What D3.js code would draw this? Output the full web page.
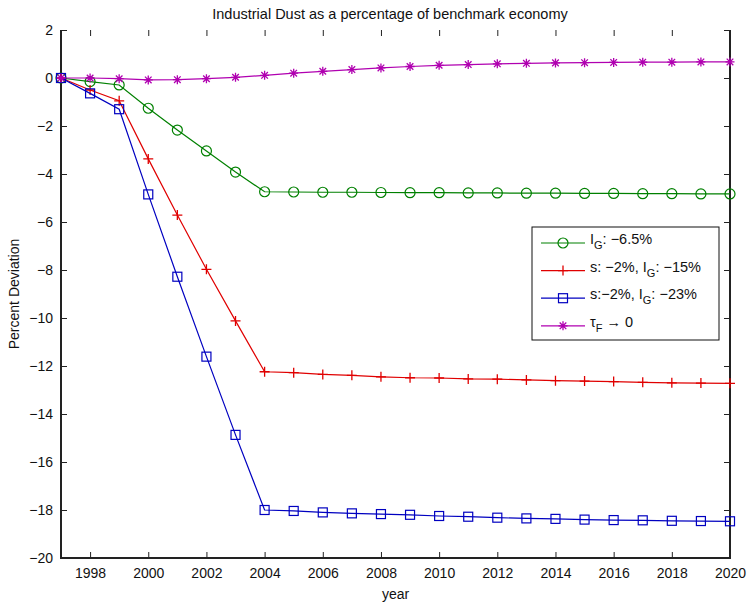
<!DOCTYPE html>
<html>
<head>
<meta charset="utf-8">
<script src="https://cdn.jsdelivr.net/npm/d3@7"></script>
<style>
  html, body { margin: 0; padding: 0; background: #fff; }
  svg { display: block; font-family: "Liberation Sans", Arial, Helvetica, sans-serif; }
</style>
</head>
<body>
<svg id="chart" width="749" height="605"></svg>
<script>
// Years on the horizontal axis
const years = d3.range(1997, 2021);

// Percent deviation of industrial dust from the benchmark economy
const igOnly = [0, -0.15, -0.29, -1.26, -2.17, -3.04, -3.92, -4.74, -4.75, -4.76, -4.76, -4.77, -4.78,
  -4.78, -4.79, -4.79, -4.80, -4.80, -4.81, -4.81, -4.82, -4.82, -4.83, -4.83];
const sIg15 = [0, -0.5, -0.95, -3.37, -5.71, -7.97, -10.12, -12.24, -12.28, -12.35, -12.39, -12.45, -12.49,
  -12.5, -12.54, -12.55, -12.58, -12.61, -12.63, -12.65, -12.68, -12.7, -12.71, -12.72];
const sIg23 = [0, -0.64, -1.3, -4.85, -8.28, -11.61, -14.87, -18.0, -18.04, -18.1, -18.14, -18.17, -18.2,
  -18.25, -18.28, -18.32, -18.35, -18.37, -18.4, -18.42, -18.43, -18.45, -18.46, -18.47];
const tauF = [0, 0.0, -0.03, -0.08, -0.07, -0.03, 0.03, 0.11, 0.2, 0.28, 0.35, 0.42, 0.48,
  0.53, 0.56, 0.59, 0.61, 0.63, 0.64, 0.65, 0.66, 0.66, 0.67, 0.67];

const xTicks = d3.range(1998, 2021, 2);
const yTicks = d3.range(-20, 3, 2);

const series = [
  { values: igOnly, color: "#008000", marker: "circle", label: [["I"], ["G", "sub"], [": \u22126.5%"]] },
  { values: sIg15, color: "#e00000", marker: "plus", label: [["s: \u22122%, I"], ["G", "sub"], [": \u221215%"]] },
  { values: sIg23, color: "#0000c0", marker: "square", label: [["s:\u22122%, I"], ["G", "sub"], [": \u221223%"]] },
  { values: tauF, color: "#b000b0", marker: "star", label: [["\u03c4"], ["F", "sub"], [" \u2192 0"]] }
];

const svg = d3.select("#chart");
const margin = { left: 61, right: 19, top: 30, bottom: 47 };
const W = 749, H = 605;

const x = d3.scaleLinear().domain([1997, 2020]).range([margin.left, W - margin.right]);
const y = d3.scaleLinear().domain([-20, 2]).range([H - margin.bottom, margin.top]);

const fmt = v => (v < 0 ? "\u2212" + Math.abs(v) : String(v));

// Axes with inward ticks on all four sides
const axisColor = "#222";
function styleAxis(g, hideText) {
  g.select(".domain").remove();
  g.selectAll(".tick line").attr("stroke", axisColor).attr("stroke-width", 1);
  g.selectAll(".tick text").attr("fill", "#111").style("font-size", "14px")
    .style("font-family", "'Liberation Sans', Arial, sans-serif");
  if (hideText) g.selectAll(".tick text").remove();
}

svg.append("g").attr("transform", `translate(0,${y(-20)})`)
  .call(d3.axisBottom(x).tickValues(xTicks).tickSize(-6).tickPadding(10).tickFormat(d3.format("d")))
  .call(g => styleAxis(g, false));
svg.append("g").attr("transform", `translate(0,${y(2)})`)
  .call(d3.axisTop(x).tickValues(xTicks).tickSize(-6))
  .call(g => styleAxis(g, true));
svg.append("g").attr("transform", `translate(${x(1997)},0)`)
  .call(d3.axisLeft(y).tickValues(yTicks).tickSize(-6).tickPadding(8).tickFormat(fmt))
  .call(g => styleAxis(g, false));
svg.append("g").attr("transform", `translate(${x(2020)},0)`)
  .call(d3.axisRight(y).tickValues(yTicks).tickSize(-6))
  .call(g => styleAxis(g, true));

// Box around the plot area
svg.append("path")
  .attr("d", `M${x(1997)},${y(2)}V${y(-20)}H${x(2020)}V${y(2)}`)
  .attr("fill", "none").attr("stroke", axisColor).attr("stroke-width", 2);

// Marker drawing
function drawMarker(g, type, color) {
  if (type === "circle") {
    g.append("circle").attr("r", 5).attr("fill", "none").attr("stroke", color).attr("stroke-width", 1.2);
  } else if (type === "square") {
    g.append("rect").attr("x", -4.5).attr("y", -4.5).attr("width", 9).attr("height", 9)
      .attr("fill", "none").attr("stroke", color).attr("stroke-width", 1.2);
  } else if (type === "plus") {
    g.append("path").attr("d", "M-5,0H5M0,-5V5").attr("stroke", color).attr("stroke-width", 1.3);
  } else if (type === "star") {
    g.append("path").attr("d", "M-4.5,0H4.5M0,-4.5V4.5M-3.3,-3.3L3.3,3.3M-3.3,3.3L3.3,-3.3")
      .attr("stroke", color).attr("stroke-width", 1.3);
  }
}

const line = d3.line().x((d, i) => x(years[i])).y(d => y(d));

series.forEach(s => {
  svg.append("path").datum(s.values).attr("d", line)
    .attr("fill", "none").attr("stroke", s.color).attr("stroke-width", 1.2);
  s.values.forEach((v, i) => {
    const g = svg.append("g").attr("transform", `translate(${x(years[i])},${y(v)})`);
    drawMarker(g, s.marker, s.color);
  });
});

// Legend
const legend = svg.append("g").attr("transform", "translate(532,227)");
legend.append("rect").attr("width", 187).attr("height", 113)
  .attr("fill", "#fff").attr("stroke", "#111").attr("stroke-width", 1);
series.forEach((s, i) => {
  const ly = 16 + i * 27.6;
  legend.append("line").attr("x1", 9).attr("x2", 53).attr("y1", ly).attr("y2", ly)
    .attr("stroke", s.color).attr("stroke-width", 1.2);
  const mg = legend.append("g").attr("transform", `translate(31,${ly})`);
  drawMarker(mg, s.marker, s.color);
  const t = legend.append("text").attr("x", 58).attr("y", ly + 1)
    .style("font-size", "14.5px").attr("fill", "#111");
  s.label.forEach(part => {
    const ts = t.append("tspan").text(part[0]);
    if (part[1] === "sub") ts.attr("dy", 5).style("font-size", "11px");
    else if (t.selectAll("tspan").size() > 1) ts.attr("dy", -5);
  });
});

// Title and axis labels
svg.append("text").attr("x", 390).attr("y", 19)
  .attr("text-anchor", "middle").style("font-size", "14.5px").attr("fill", "#111")
  .text("Industrial Dust as a percentage of benchmark economy");
svg.append("text").attr("x", (x(1997) + x(2020)) / 2).attr("y", 599)
  .attr("text-anchor", "middle").style("font-size", "14px").attr("fill", "#111")
  .text("year");
svg.append("text").attr("transform", `translate(19,${(y(2) + y(-20)) / 2}) rotate(-90)`)
  .attr("text-anchor", "middle").style("font-size", "14px").attr("fill", "#111")
  .text("Percent Deviation");
</script>
</body>
</html>
